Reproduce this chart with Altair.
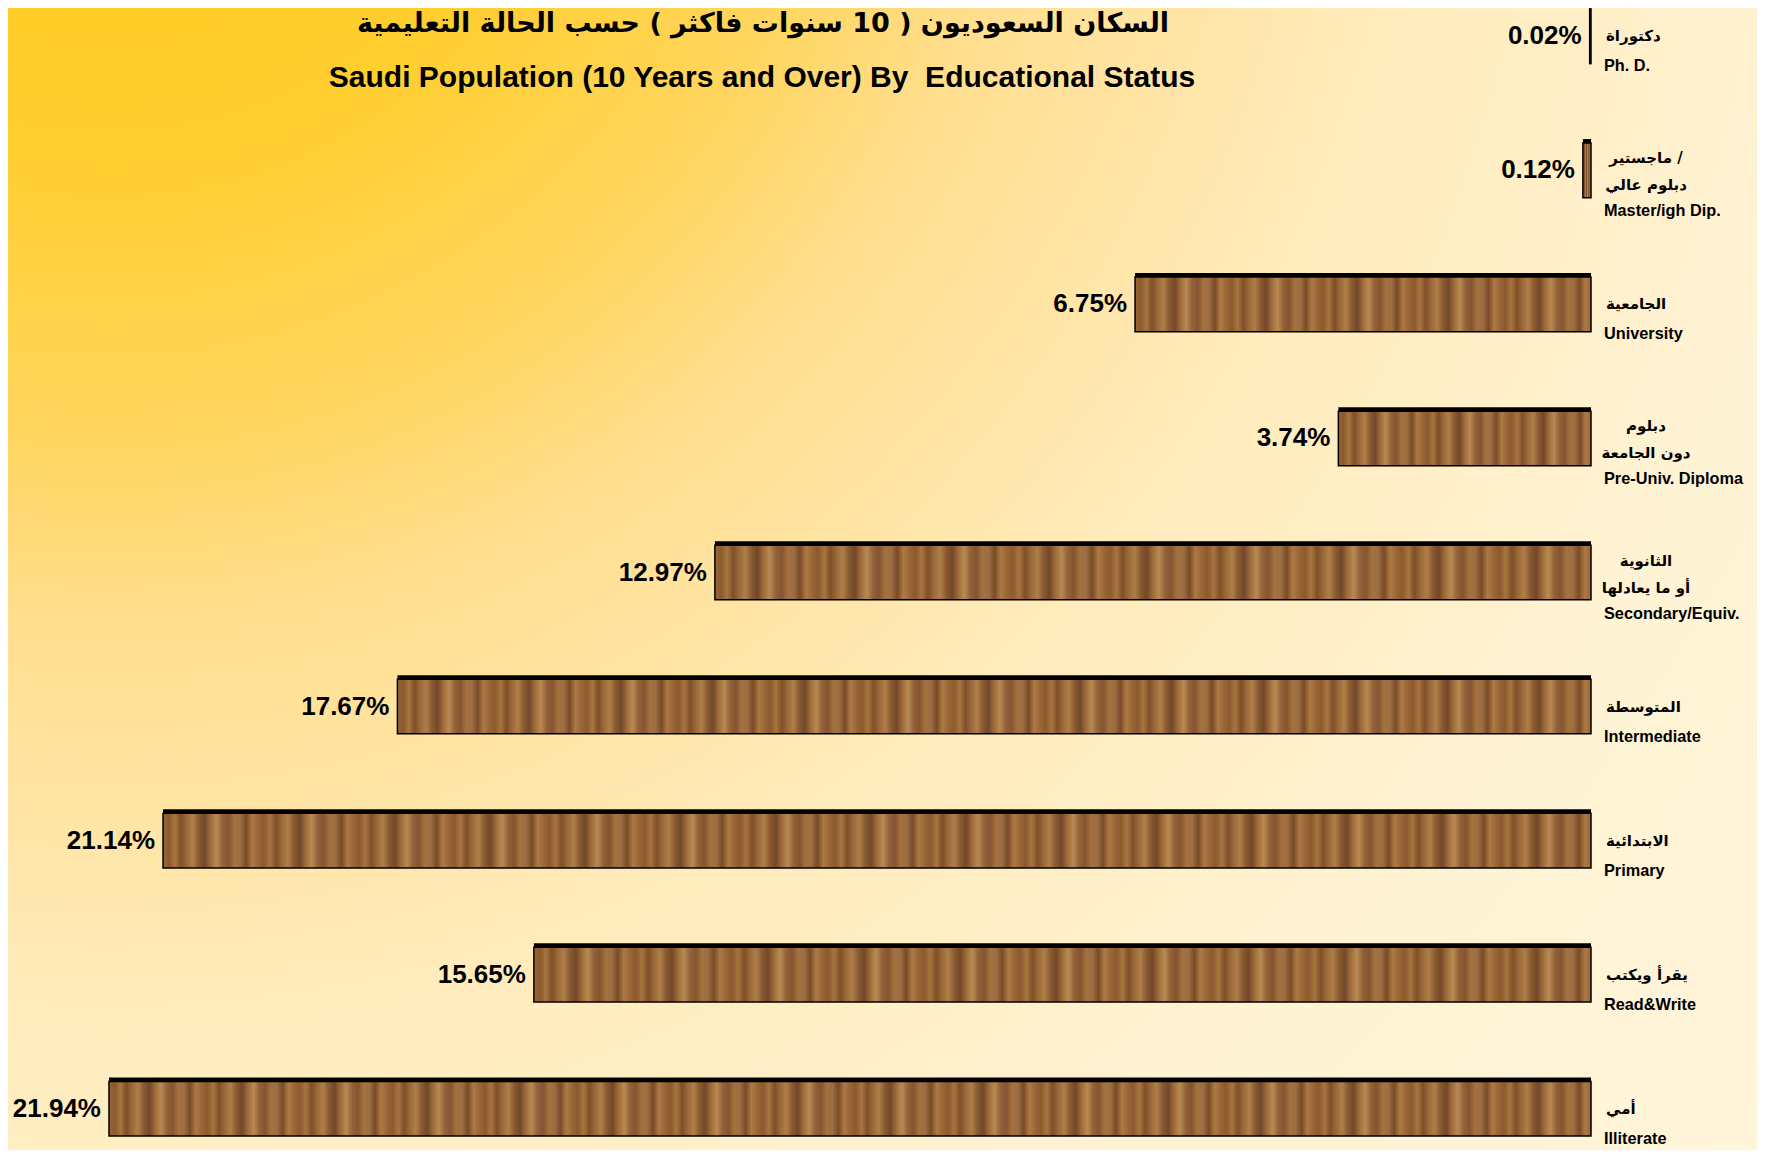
import altair as alt
import pandas as pd

# ---------------- data ----------------
CATEGORIES_EN = ["Ph. D.", "Master/igh Dip.", "University", "Pre-Univ. Diploma",
                 "Secondary/Equiv.", "Intermediate", "Primary", "Read&Write", "Illiterate"]
CATEGORIES_AR = ["دكتوراة", "ماجستير /\nدبلوم عالي", "الجامعية", "دبلوم\nدون الجامعة",
                 "الثانوية\nأو ما يعادلها", "المتوسطة", "الابتدائية", "يقرأ ويكتب", "أمي"]
SHARES = [0.02, 0.12, 6.75, 3.74, 12.97, 17.67, 21.14, 15.65, 21.94]

TITLE_AR = "السكان السعوديون ( 10 سنوات فاكثر ) حسب الحالة التعليمية"
TITLE_EN = "Saudi Population (10 Years and Over) By  Educational Status"

# ---------------- styling ----------------
W, H = 1583, 1127
XMAX = 23.435
PX_PER_UNIT = W / XMAX
WOOD = ["#9A6636", "#8C5A2E", "#A87440", "#7E5029", "#9C6A3A", "#B07E48", "#8A5B31",
        "#73482A", "#A06C3A", "#B88A52", "#93623A", "#845530", "#A5713E", "#9B6E44",
        "#7A4B26", "#AD7A45"]
PERIOD_PX = 95

df = pd.DataFrame({
    "en": CATEGORIES_EN,
    "ar": CATEGORIES_AR,
    "v": SHARES,
    "two": ["\n" in a for a in CATEGORIES_AR],
})
df["label"] = df["v"].map(lambda x: f"{x:.2f}%")

base = alt.Chart(df)
xenc = alt.X("v:Q", scale=alt.Scale(domain=[0, XMAX], reverse=True, nice=False, zero=True), axis=None)
yenc = alt.Y("en:N", sort=CATEGORIES_EN,
             scale=alt.Scale(domain=CATEGORIES_EN, paddingInner=0.5926, paddingOuter=0),
             axis=None)

# background
BG_R = 1900
bg_stops = [(0, "#FFC914"), (300, "#FFCE30"), (480, "#FFD65F"), (600, "#FFDE8E"),
            (850, "#FFEBBB"), (1150, "#FFF3D5"), (1900, "#FFF8E2")]
bg_grad = alt.RadialGradient(
    gradient="radial",
    stops=[alt.GradientStop(color=c, offset=d / BG_R) for d, c in bg_stops],
    x1=100 / 1749, y1=0, r1=0, x2=100 / 1749, y2=0, r2=BG_R / 1142,
)
bg = alt.Chart(alt.Data(values=[{"a": 1}])).mark_rect(fill=bg_grad).encode(
    x=alt.value(0), x2=alt.value(1749), y=alt.value(-1), y2=alt.value(1141)
)

shadow = base.mark_bar(color="black", yOffset=-4).encode(x=xenc, y=yenc)

wood_layers = []
for name, val in zip(CATEGORIES_EN, SHARES):
    px = val * PX_PER_UNIT
    n = max(1, round(px / PERIOD_PX))
    total = n * len(WOOD) + 1
    stops = [alt.GradientStop(color=WOOD[k % len(WOOD)], offset=k / (total - 1)) for k in range(total)]
    grad = alt.LinearGradient(gradient="linear", stops=stops, x1=0, x2=1, y1=0, y2=0)
    wood_layers.append(
        base.transform_filter(alt.datum.en == name)
        .mark_bar(fill=grad, stroke="black", strokeWidth=1.5)
        .encode(x=xenc, y=yenc)
    )

pct = base.mark_text(align="right", baseline="middle", dx=-8, fontSize=26,
                     fontWeight="bold", font="Liberation Sans", color="black").encode(
    x=xenc, y=yenc, text="label:N")

ar_single = base.transform_filter("!datum.two").mark_text(
    align="left", baseline="middle", dx=15, dy=0, fontSize=15, fontWeight="bold",
    font="DejaVu Sans", color="black").encode(x=alt.datum(0), y=yenc, text="ar:N")
ar_two = base.transform_filter("datum.two").mark_text(
    align="center", baseline="middle", dx=55, dy=-12, fontSize=15, fontWeight="bold",
    font="DejaVu Sans", color="black", lineBreak="\n", lineHeight=27).encode(
    x=alt.datum(0), y=yenc, text="ar:N")
en_single = base.transform_filter("!datum.two").mark_text(
    align="left", baseline="middle", dx=13, dy=30, fontSize=16.3, fontWeight="bold",
    font="Liberation Sans", color="black").encode(x=alt.datum(0), y=yenc, text="en:N")
en_two = base.transform_filter("datum.two").mark_text(
    align="left", baseline="middle", dx=13, dy=41, fontSize=16.3, fontWeight="bold",
    font="Liberation Sans", color="black").encode(x=alt.datum(0), y=yenc, text="en:N")

title_ar = alt.Chart(alt.Data(values=[{"t": TITLE_AR}])).mark_text(
    align="center", baseline="middle", fontSize=27, fontWeight=900,
    font="DejaVu Sans", color="black").encode(x=alt.value(755), y=alt.value(15), text="t:N")
title_en = alt.Chart(alt.Data(values=[{"t": TITLE_EN.replace("  ", " \u00a0")}])).mark_text(
    align="center", baseline="middle", fontSize=30, fontWeight="bold",
    font="Liberation Sans", color="black").encode(x=alt.value(754), y=alt.value(69), text="t:N")

chart = alt.layer(
    bg, shadow, *wood_layers, pct, ar_single, ar_two, en_single, en_two, title_ar, title_en
).properties(
    width=W, height=H,
    padding={"left": 0, "top": 1, "right": 166, "bottom": 14},
    autosize=alt.AutoSizeParams(type="none"),
    background="#FFF8E1",
).configure_view(strokeWidth=0)

chart.save("out.html", embed_options={"renderer": "svg", "actions": False})
